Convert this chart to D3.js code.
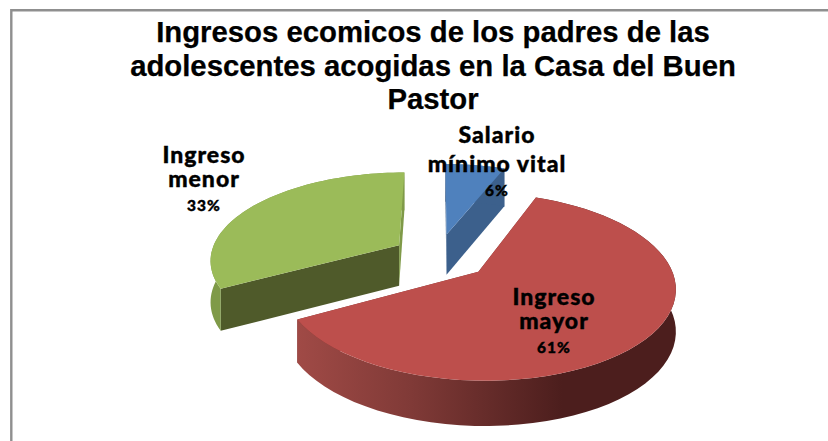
<!DOCTYPE html>
<html>
<head>
<meta charset="utf-8">
<script src="https://cdn.jsdelivr.net/npm/d3@7"></script>
<style>
  html, body { margin: 0; padding: 0; background: #fff; }
  svg { display: block; }
</style>
</head>
<body>
<div class="canvas"></div>
<script>
// chart values
const categories = ['Salario mínimo vital', 'Ingreso mayor', 'Ingreso menor'];
const values = [6, 61, 33];
const labelLines = [['Salario', 'mínimo vital'], ['Ingreso', 'mayor'], ['Ingreso', 'menor']];
const titleLines = [
  'Ingresos ecomicos de los padres de las',
  'adolescentes acogidas en la Casa del Buen',
  'Pastor'
];

// styles, same order as the categories
const topColors = ['#4f81bd', '#bd4f4c', '#9bbb59'];
const startCutColors = ['#3c608c', '#7c3532', '#4f5a2a'];
const endCutColors = ['#3c608c', '#7c3532', '#7f9a48'];
const wallColors = ['#3c608c', '#7c3532', '#7f9a48'];
const labelAnchors = [[497, 143], [554, 305], [204, 163]];
const labelSteps = [29, 24, 24];
const nudges = [[-3, -1], [1, 1], [-2, 0]]; // small hand shifts per slice

const width = 828, height = 441;

const svg = d3.select('.canvas')
              .append('svg')
              .attr('width', width)
              .attr('height', height);

// frame
svg.append('path')
   .attr('d', `M11.3,${height} V10.3 H${width}`)
   .attr('fill', 'none')
   .attr('stroke', '#8f8f8f')
   .attr('stroke-width', 2.4);

// title
svg.append('g').selectAll('text')
   .data(titleLines)
   .enter()
   .append('text')
   .attr('x', 433)
   .attr('y', (d, i) => 42 + i * 33.5)
   .attr('text-anchor', 'middle')
   .attr('font-family', '"Liberation Sans", Arial, sans-serif')
   .attr('font-weight', 'bold')
   .attr('font-size', 29.3)
   .attr('fill', '#000')
   .attr('stroke', '#000')
   .attr('stroke-width', 0.25)
   .text(d => d);

// pie angles start at the top and go clockwise
const pie = d3.pie().sort(null).value(d => d);
const arcs = pie(values);

// tilted plane with perspective, the front of the pie comes out bigger
const cx = 441, cy = 256, rx = 189, ry = 87, persp = 0.155, depth = 41, pull = 0.25;

const project = (X, Y, z) => {
  const w = 1 / (1 - persp * Y);
  return [cx + rx * X * w, cy + ry * Y * w + z * depth * Math.sqrt(w)];
};

const defs = svg.append('defs');

const slices = svg.append('g');

// red goes last so it stays on top of the other two
[0, 2, 1].forEach(i => {
  const a = arcs[i];
  const mid = (a.startAngle + a.endAngle) / 2;
  const ox = Math.sin(mid) * pull, oy = -Math.cos(mid) * pull;
  const onRim = (t) => [ox + Math.sin(t), oy - Math.cos(t)];

  const angles = d3.range(0, 61).map(k => a.startAngle + (a.endAngle - a.startAngle) * k / 60);
  const rimTop = angles.map(t => project(...onRim(t), 0));
  const rimBottom = angles.map(t => project(...onRim(t), 1));
  const apexTop = project(ox, oy, 0);
  const apexBottom = project(ox, oy, 1);
  const line = d3.line();
  const g = slices.append('g').attr('transform', `translate(${nudges[i]})`);

  // cut faces, start edge then end edge
  const last = rimTop.length - 1;
  g.append('path')
   .attr('d', line([apexTop, rimTop[0], rimBottom[0], apexBottom]) + 'Z')
   .attr('fill', startCutColors[i]);
  g.append('path')
   .attr('d', line([apexTop, rimTop[last], rimBottom[last], apexBottom]) + 'Z')
   .attr('fill', endCutColors[i]);

  // outer wall
  let wallFill = wallColors[i];
  if (i === 1) {
    // the front wall of the red slice gets darker to the right
    const xs = d3.extent(rimBottom, d => d[0]);
    const grad = defs.append('linearGradient')
                     .attr('id', 'redWall')
                     .attr('gradientUnits', 'userSpaceOnUse')
                     .attr('x1', xs[0]).attr('x2', xs[1])
                     .attr('y1', 0).attr('y2', 0);
    grad.append('stop').attr('offset', 0).attr('stop-color', '#a04a46');
    grad.append('stop').attr('offset', 0.3).attr('stop-color', '#803a37');
    grad.append('stop').attr('offset', 0.7).attr('stop-color', '#4c1e1d');
    grad.append('stop').attr('offset', 1).attr('stop-color', '#4c1e1d');
    wallFill = 'url(#redWall)';
  }
  g.append('path')
   .attr('d', line(rimTop.concat(rimBottom.slice().reverse())) + 'Z')
   .attr('fill', wallFill);

  // top face
  g.append('path')
   .attr('d', line([apexTop].concat(rimTop)) + 'Z')
   .attr('fill', topColors[i]);
});

// labels
const labels = svg.append('g')
                  .attr('font-family', 'Lato, "Noto Sans", sans-serif')
                  .attr('text-anchor', 'middle')
                  .attr('fill', '#000')
                  .attr('stroke', '#000')
                  .attr('stroke-width', 0.4);

categories.forEach((c, i) => {
  const [x, y] = labelAnchors[i];
  const t = labels.append('text').attr('font-weight', 900);
  labelLines[i].forEach((l, k) => {
    t.append('tspan')
     .attr('x', x)
     .attr('y', y + k * labelSteps[i])
     .attr('font-size', 23)
     .attr('letter-spacing', 1)
     .text(l);
  });
  t.append('tspan')
   .attr('x', x)
   .attr('y', y + (labelLines[i].length - 1) * labelSteps[i] + 24)
   .attr('font-size', 15.5)
   .attr('letter-spacing', 1)
   .text(values[i] + '%');
});
</script>
</body>
</html>
